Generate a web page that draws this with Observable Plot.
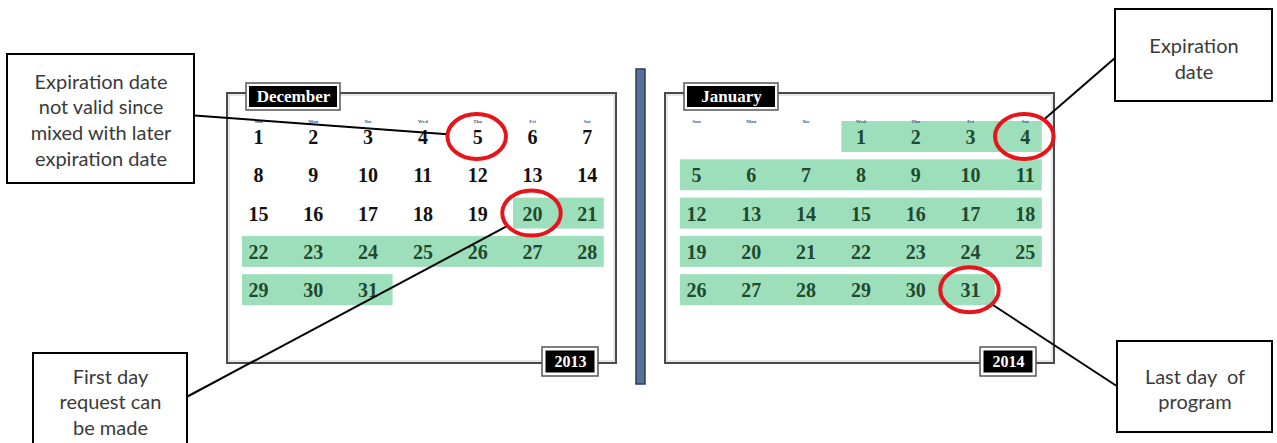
<!DOCTYPE html>
<html>
<head>
<meta charset="utf-8">
<script src="https://cdn.jsdelivr.net/npm/d3@7"></script>
<script src="https://cdn.jsdelivr.net/npm/@observablehq/plot@0.6"></script>
<style>
html, body { margin: 0; padding: 0; background: #fff; overflow: hidden; }
#chart svg { display: block; }
</style>
</head>
<body>
<div id="chart"></div>
<script>
// ---------- data ----------
const weekdays = ["Sun", "Mon", "Tue", "Wed", "Thu", "Fri", "Sat"];
const monthNames = ["December", "January"];
const yearLabels = ["2013", "2014"];
const firstWeekday = [0, 3];      // Dec 1 2013 = Sunday, Jan 1 2014 = Wednesday
const monthLengths = [31, 31];
const highlightFrom = [20, 1];
const highlightTo = [31, 31];
const circledMonth = [0, 0, 1, 1];
const circledDay = [5, 20, 4, 31];
const calloutTexts = [
  "Expiration date\nnot valid since\nmixed with later\nexpiration date",
  "First day\nrequest can\nbe made",
  "Expiration\ndate",
  "Last day  of\nprogram"
];

// ---------- layout (positions / sizes) ----------
const L = {
  panelDx: 438,
  col0: 258, colStep: 54.8, row0: 137, rowStep: 38.3,
  frame: {x1: 227, x2: 616, y1: 93, y2: 363},
  title: {x1: 246, x2: 340, y1: 83, y2: 110},
  year: {x1: 542, x2: 598, y1: 347, y2: 376},
  headerY: 121,
  divider: {x1: 636, x2: 645, y1: 69, y2: 384},
  ellR: 22.5, ellRatio: 1.3,
  callouts: [
    {x1: 7, x2: 194, y1: 54, y2: 183, ax: 194, ay: 115, ty: 118.5},
    {x1: 33, x2: 187, y1: 353, y2: 480, ax: 187, ay: 396, ty: 400.5},
    {x1: 1115, x2: 1272, y1: 9, y2: 101, ax: 1115, ay: 57, ty: 57.5},
    {x1: 1117, x2: 1272, y1: 341, y2: 432, ax: 1117, ay: 386, ty: 388}
  ]
};

// ---------- derived tables ----------
function cellPos(m, d) {
  const idx = firstWeekday[m] + d - 1;
  const col = idx % 7, row = Math.floor(idx / 7);
  return {col, row, x: L.col0 + m * L.panelDx + col * L.colStep, y: L.row0 + row * L.rowStep};
}
const days = [];
monthNames.forEach((name, m) => {
  for (let d = 1; d <= monthLengths[m]; d++) {
    const p = cellPos(m, d);
    days.push({m, d, ...p, hi: d >= highlightFrom[m] && d <= highlightTo[m]});
  }
});
const bands = d3.flatGroup(days.filter(c => c.hi), c => c.m, c => c.row).map(([m, row, cells]) => {
  const a = d3.least(cells, c => c.col), b = d3.greatest(cells, c => c.col);
  return {
    x1: a.x - (a.col === 0 ? 16 : 19),
    x2: b.x + (b.col === 6 ? 17 : 25),
    y1: a.y - 16, y2: a.y + 15
  };
});
const headers = [];
monthNames.forEach((_, m) => weekdays.forEach((w, i) => headers.push({
  text: w, x: L.col0 + m * L.panelDx + i * L.colStep, y: L.headerY
})));
const panels = monthNames.map((name, m) => ({name, year: yearLabels[m], dx: m * L.panelDx}));
const circles = circledDay.map((d, i) => {
  const p = cellPos(circledMonth[i], d);
  return {x: p.x - 1, y: p.y - 1};
});
const ry = L.ellR, rx = L.ellR * L.ellRatio;
const callouts = calloutTexts.map((text, i) => {
  const b = L.callouts[i], c = circles[i];
  const dx = b.ax - c.x, dy = b.ay - c.y;
  const s = 1 / Math.sqrt((dx / rx) ** 2 + (dy / ry) ** 2);
  return {...b, text, tx: (b.x1 + b.x2) / 2, ex: c.x + dx * s, ey: c.y + dy * s};
});

const ellipse = {
  draw(ctx, size) {
    const r = Math.sqrt(size / Math.PI);
    const a = r * L.ellRatio, b = r, k = 0.5523;
    ctx.moveTo(a, 0);
    ctx.bezierCurveTo(a, b * k, a * k, b, 0, b);
    ctx.bezierCurveTo(-a * k, b, -a, b * k, -a, 0);
    ctx.bezierCurveTo(-a, -b * k, -a * k, -b, 0, -b);
    ctx.bezierCurveTo(a * k, -b, a, -b * k, a, 0);
    ctx.closePath();
  }
};

const serif = "Liberation Serif, Times New Roman, serif";
const sans = "Lato, Open Sans, sans-serif";

const chart = Plot.plot({
  width: 1277, height: 443,
  margin: 0,
  x: {domain: [0, 1277], range: [0, 1277], axis: null},
  y: {domain: [0, 443], range: [0, 443], axis: null},
  style: {background: "white"},
  marks: [
    // calendar frames
    Plot.rect(panels, {x1: p => L.frame.x1 + p.dx, x2: p => L.frame.x2 + p.dx, y1: L.frame.y1, y2: L.frame.y2,
      fill: "white", stroke: "#4a4a4a", strokeWidth: 2}),
    Plot.rect(panels, {x1: p => L.frame.x1 + p.dx + 2, x2: p => L.frame.x2 + p.dx - 2, y1: L.frame.y1 + 2, y2: L.frame.y2 - 2,
      fill: "none", stroke: "#d0d0d0", strokeWidth: 1}),
    // divider
    Plot.rect([L.divider], {x1: "x1", x2: "x2", y1: "y1", y2: "y2", fill: "#56729a", stroke: "#2c3c55", strokeWidth: 1.5}),
    // highlighted bands
    Plot.rect(bands, {x1: "x1", x2: "x2", y1: "y1", y2: "y2", fill: "#9ddfbb"}),
    // weekday headers
    Plot.text(headers, {x: "x", y: "y", text: "text", fontSize: 5, fill: "#3b5b8c", fontWeight: "bold", fontFamily: serif}),
    // day numbers
    Plot.text(days, {x: "x", y: "y", text: "d", fontSize: 20, fontWeight: "bold", fontFamily: serif,
      fill: c => c.hi ? "#1f4a30" : "#111"}),
    // month title boxes
    Plot.rect(panels, {x1: p => L.title.x1 + p.dx, x2: p => L.title.x2 + p.dx, y1: L.title.y1, y2: L.title.y2,
      fill: "white", stroke: "#555", strokeWidth: 1.5}),
    Plot.rect(panels, {x1: p => L.title.x1 + p.dx + 3, x2: p => L.title.x2 + p.dx - 3, y1: L.title.y1 + 3, y2: L.title.y2 - 3,
      fill: "black"}),
    Plot.text(panels, {x: p => (L.title.x1 + L.title.x2) / 2 + p.dx, y: (L.title.y1 + L.title.y2) / 2, text: "name",
      fill: "white", fontSize: 17, fontWeight: "bold", fontFamily: serif}),
    // year boxes
    Plot.rect(panels, {x1: p => L.year.x1 + p.dx, x2: p => L.year.x2 + p.dx, y1: L.year.y1, y2: L.year.y2,
      fill: "white", stroke: "#555", strokeWidth: 1.5}),
    Plot.rect(panels, {x1: p => L.year.x1 + p.dx + 3.5, x2: p => L.year.x2 + p.dx - 3.5, y1: L.year.y1 + 3.5, y2: L.year.y2 - 3.5,
      fill: "black"}),
    Plot.text(panels, {x: p => (L.year.x1 + L.year.x2) / 2 + p.dx, y: (L.year.y1 + L.year.y2) / 2, text: "year",
      fill: "white", fontSize: 16, fontWeight: "bold", fontFamily: serif}),
    // connectors
    Plot.link(callouts, {x1: "ax", y1: "ay", x2: "ex", y2: "ey", stroke: "black", strokeWidth: 2}),
    // red ellipses
    Plot.dot(circles, {x: "x", y: "y", r: L.ellR, symbol: ellipse, stroke: "#e8141b", strokeWidth: 4, fill: "none"}),
    // callout boxes
    Plot.rect(callouts, {x1: "x1", x2: "x2", y1: "y1", y2: "y2", fill: "white", stroke: "black", strokeWidth: 2}),
    Plot.text(callouts, {x: "tx", y: "ty", text: "text", fontSize: 20, lineHeight: 1.28, fill: "#3a3a3a", fontFamily: sans})
  ]
});
document.getElementById("chart").appendChild(chart);
</script>
</body>
</html>
